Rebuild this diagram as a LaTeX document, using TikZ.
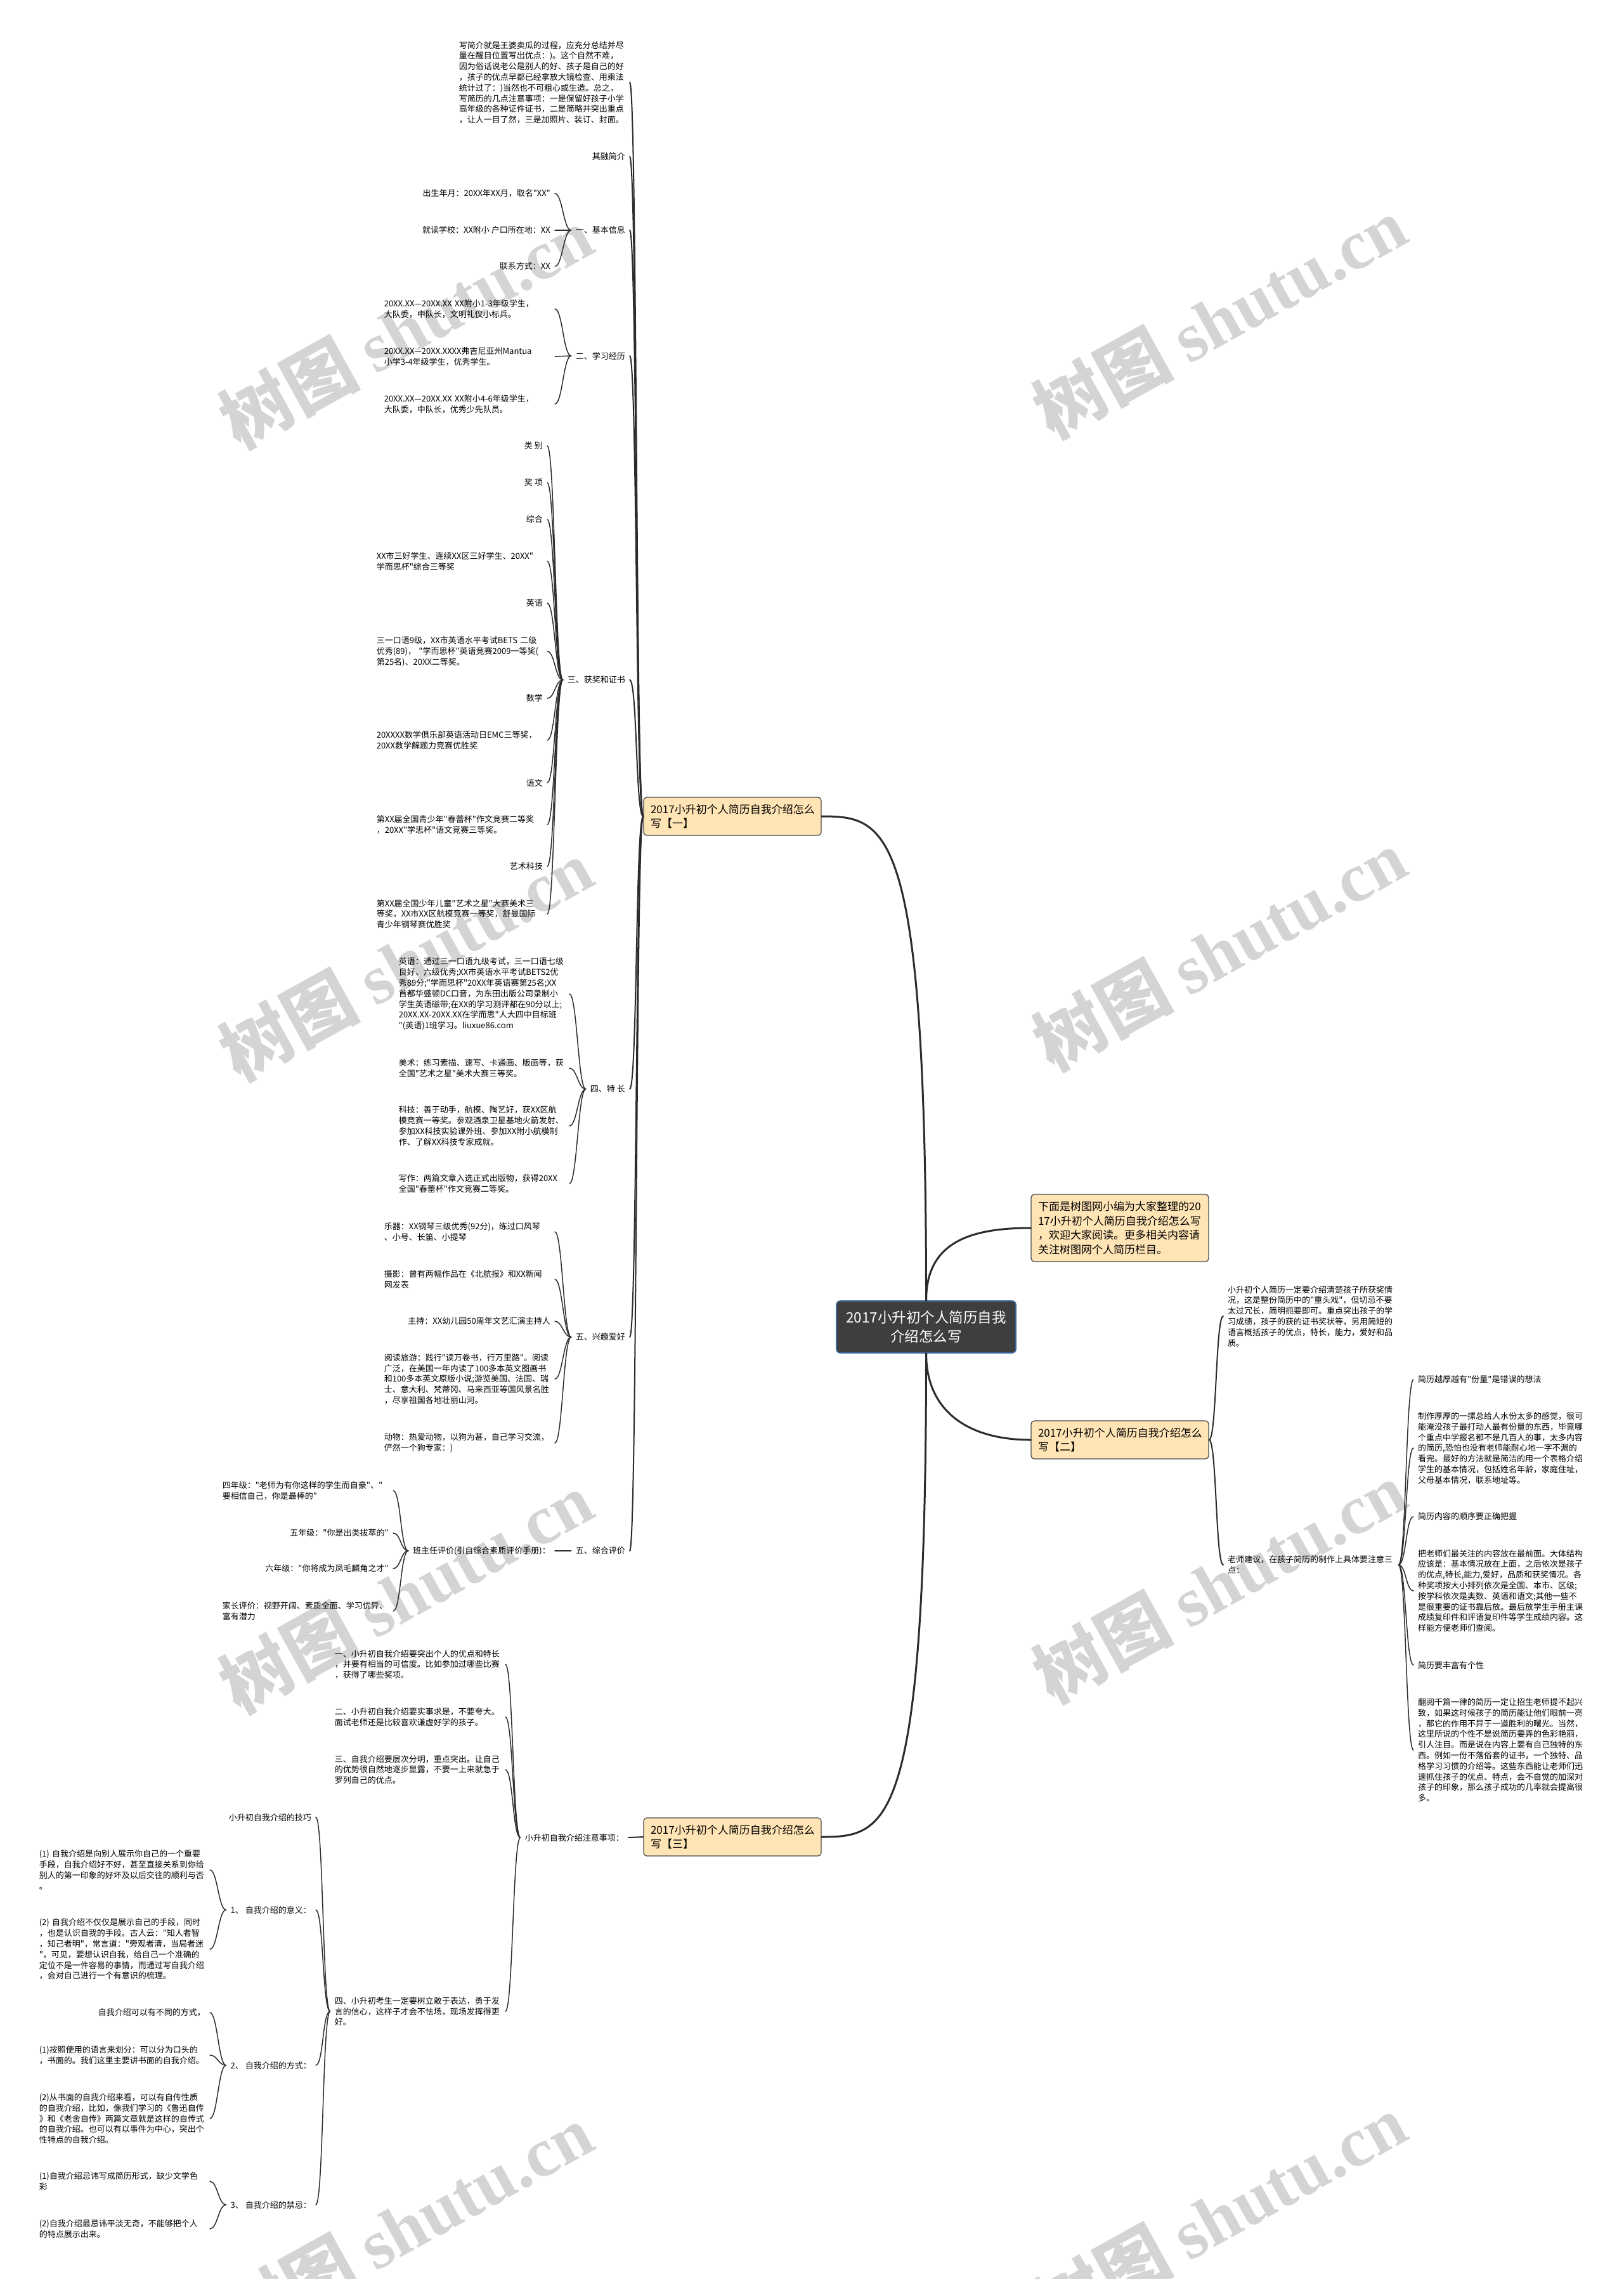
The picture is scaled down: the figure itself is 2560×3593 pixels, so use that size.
\documentclass[tikz,border=0pt]{standalone}
\usepackage{fontspec}
\newfontfamily\zhfont{Noto Sans CJK SC}
\newfontfamily\wmfont{Liberation Serif}
\hyphenpenalty=10000
\exhyphenpenalty=10000
\definecolor{boxfill}{HTML}{FFE4B5}
\definecolor{rootfill}{HTML}{3E3E3E}
\definecolor{rootline}{HTML}{3B6AA0}
\definecolor{wire}{HTML}{2B2B2B}
\tikzset{
  leaf/.style={font=\zhfont\fontsize{13}{16.8}\selectfont,inner xsep=7pt,inner ysep=2pt},
  para/.style={leaf,text width=262pt,align=left},
  branch/.style={draw=black!70,line width=1.3pt,fill=boxfill,rounded corners=5pt,font=\zhfont\fontsize{17}{22.5}\selectfont,text width=258pt,align=left,inner xsep=11pt,minimum height=60pt},
  root/.style={draw=rootline,line width=1.6pt,fill=rootfill,text=white,rounded corners=6pt,font=\zhfont\fontsize{22.5}{30}\selectfont,align=center,minimum width=283pt,minimum height=82pt},
  wm/.style={text=black!17,rotate=29,font=\zhfont\fontsize{110}{110}\selectfont\bfseries},
  trunk/.style={draw=wire,line width=3pt,line cap=round},
  lnk2/.style={draw=wire,line width=2pt,line cap=round},
  lnk/.style={draw=wire,line width=1.5pt,line cap=round},
}
\begin{document}
\begin{tikzpicture}[x=1pt,y=-1pt]
\path[use as bounding box,fill=white] (0,0) rectangle (2560,3593);
% watermark
\foreach \wx/\wy in {640/516,1923/500,640/1513,1923/1497,640/2510,1923/2494,640/3507,1923/3491}
  \node[wm] (wm-\wx-\wy) at (\wx,\wy) {树图 {\wmfont\bfseries shutu.cn}};

% centre and branches
\node[root] (cn) at (1460.5,2092) {2017小升初个人简历自我\\介绍怎么写};
\node[branch,minimum height=106pt] (ib) at (1766,1936) {下面是树图网小编为大家整理的20\\17小升初个人简历自我介绍怎么写\\，欢迎大家阅读。更多相关内容请\\关注树图网个人简历栏目。};
\node[branch] (b1) at (1155,1287) {2017小升初个人简历自我介绍怎么\\写【一】};
\node[branch] (b2) at (1766,2270) {2017小升初个人简历自我介绍怎么\\写【二】};
\node[branch] (b3) at (1155,2896) {2017小升初个人简历自我介绍怎么\\写【三】};

\begin{scope}[every node/.append style={anchor=east}]
% branch one
\node[para] (p0) at (993,130) {写简介就是王婆卖瓜的过程，应充分总结并尽\\量在醒目位置写出优点：)。这个自然不难，\\因为俗话说老公是别人的好、孩子是自己的好\\，孩子的优点早都已经拿放大镜检查、用乘法\\统计过了：)当然也不可粗心或生造。总之，\\写简历的几点注意事项：一是保留好孩子小学\\高年级的各种证件证书，二是简略并突出重点\\，让人一目了然，三是加照片、装订、封面。};
\node[leaf] (qr) at (993,247) {其融简介};
\node[leaf] (jb) at (993,363) {一、基本信息};
\node[leaf] (xx) at (993,561) {二、学习经历};
\node[leaf] (hj) at (993,1072) {三、获奖和证书};
\node[leaf] (tc) at (993,1717) {四、特 长};
\node[leaf] (xq) at (993,2108) {五、兴趣爱好};
\node[leaf] (zh) at (993,2445) {五、综合评价};

\node[leaf] (jb1) at (875,305) {出生年月：20XX年XX月，取名"XX"};
\node[leaf] (jb2) at (875,363) {就读学校：XX附小 户口所在地：XX};
\node[leaf] (jb3) at (875,420) {联系方式：XX};

\node[para] (xx1) at (875,487) {20XX.XX—20XX.XX~XX附小1-3年级学生，\\大队委，中队长，文明礼仪小标兵。};
\node[para] (xx2) at (875,562) {20XX.XX—20XX.XXXX弗吉尼亚州Mantua\\小学3-4年级学生，优秀学生。};
\node[para] (xx3) at (875,637) {20XX.XX—20XX.XX~XX附小4-6年级学生，\\大队委，中队长，优秀少先队员。};

\node[leaf] (hj1) at (863,703) {类 别};
\node[leaf] (hj2) at (863,761) {奖 项};
\node[leaf] (hj3) at (863,819) {综合};
\node[para] (hj4) at (863,885) {XX市三好学生、连续XX区三好学生、20XX"\\学而思杯"综合三等奖};
\node[leaf] (hj5) at (863,951) {英语};
\node[para] (hj6) at (863,1027) {三一口语9级，XX市英语水平考试BETS~二级\\优秀(89)，~"学而思杯"英语竞赛2009一等奖(\\第25名)、20XX二等奖。};
\node[leaf] (hj7) at (863,1101) {数学};
\node[para] (hj8) at (863,1167) {20XXXX数学俱乐部英语活动日EMC三等奖，\\20XX数学解题力竞赛优胜奖};
\node[leaf] (hj9) at (863,1234) {语文};
\node[para] (hj10) at (863,1300) {第XX届全国青少年"春蕾杯"作文竞赛二等奖\\，20XX"学思杯"语文竞赛三等奖。};
\node[leaf] (hj11) at (863,1366) {艺术科技};
\node[para] (hj12) at (863,1441) {第XX届全国少年儿童"艺术之星"大赛美术三\\等奖，XX市XX区航模竞赛一等奖，舒曼国际\\青少年钢琴赛优胜奖};

\node[para] (tc1) at (898,1567) {英语：通过三一口语九级考试，三一口语七级\\良好、六级优秀;XX市英语水平考试BETS2优\\秀89分;"学而思杯"20XX年英语赛第25名;XX\\首都华盛顿DC口音，为东田出版公司录制小\\学生英语磁带;在XX的学习测评都在90分以上;\\20XX.XX-20XX.XX在学而思"人大四中目标班\\"(英语)1班学习。liuxue86.com};
\node[para] (tc2) at (898,1684) {美术：练习素描、速写、卡通画、版画等，获\\全国"艺术之星"美术大赛三等奖。};
\node[para] (tc3) at (898,1775) {科技：善于动手，航模、陶艺好，获XX区航\\模竞赛一等奖。参观酒泉卫星基地火箭发射、\\参加XX科技实验课外班、参加XX附小航模制\\作、了解XX科技专家成就。};
\node[para] (tc4) at (898,1866) {写作：两篇文章入选正式出版物，获得20XX\\全国"春蕾杯"作文竞赛二等奖。};

\node[para] (xq1) at (875,1942) {乐器：XX钢琴三级优秀(92分)，练过口风琴\\、小号、长笛、小提琴};
\node[para] (xq2) at (875,2017) {摄影：曾有两幅作品在《北航报》和XX新闻\\网发表};
\node[leaf] (xq3) at (875,2083) {主持：XX幼儿园50周年文艺汇演主持人};
\node[para] (xq4) at (875,2174) {阅读旅游：践行"读万卷书，行万里路"。阅读\\广泛，在美国一年内读了100多本英文图画书\\和100多本英文原版小说;游览美国、法国、瑞\\士、意大利、梵蒂冈、马来西亚等国风景名胜\\，尽享祖国各地壮丽山河。};
\node[para] (xq5) at (875,2275) {动物：热爱动物，以狗为甚，自己学习交流，\\俨然一个狗专家：)};

\node[leaf] (bzr) at (875,2445) {班主任评价(引自综合素质评价手册)：};
\node[para] (pj1) at (620,2350) {四年级："老师为有你这样的学生而自豪"、"\\要相信自己，你是最棒的"};
\node[leaf] (pj2) at (620,2417) {五年级："你是出类拔萃的"};
\node[leaf] (pj3) at (620,2473) {六年级："你将成为凤毛麟角之才"};
\node[para] (pj4) at (620,2540) {家长评价：视野开阔、素质全面、学习优异、\\富有潜力};

% branch three
\node[leaf] (zs) at (991,2897) {小升初自我介绍注意事项：};
\node[para] (zs1) at (797,2624) {一、小升初自我介绍要突出个人的优点和特长\\，并要有相当的可信度。比如参加过哪些比赛\\，获得了哪些奖项。};
\node[para] (zs2) at (797,2707) {二、小升初自我介绍要实事求是，不要夸大。\\面试老师还是比较喜欢谦虚好学的孩子。};
\node[para] (zs3) at (797,2790) {三、自我介绍要层次分明，重点突出。让自己\\的优势很自然地逐步显露，不要一上来就急于\\罗列自己的优点。};
\node[para] (zs4) at (797,3171) {四、小升初考生一定要树立敢于表达，勇于发\\言的信心，这样子才会不怯场，现场发挥得更\\好。};

\node[leaf] (jq) at (498,2865) {小升初自我介绍的技巧};
\node[leaf] (yy) at (498,3011) {1、 自我介绍的意义：};
\node[leaf] (fs) at (498,3256) {2、 自我介绍的方式：};
\node[leaf] (jj) at (498,3476) {3、 自我介绍的禁忌：};

\node[para] (yy1) at (331,2948) {(1)~自我介绍是向别人展示你自己的一个重要\\手段，自我介绍好不好，甚至直接关系到你给\\别人的第一印象的好坏及以后交往的顺利与否\\。};
\node[para] (yy2) at (331,3073) {(2)~自我介绍不仅仅是展示自己的手段，同时\\，也是认识自我的手段。古人云："知人者智\\，知己者明"，常言道："旁观者清，当局者迷\\"，可见，要想认识自我，给自己一个准确的\\定位不是一件容易的事情，而通过写自我介绍\\，会对自己进行一个有意识的梳理。};
\node[leaf] (fs1) at (331,3173) {自我介绍可以有不同的方式，};
\node[para] (fs2) at (331,3240) {(1)按照使用的语言来划分：可以分为口头的\\，书面的。我们这里主要讲书面的自我介绍。};
\node[para] (fs3) at (331,3340) {(2)从书面的自我介绍来看，可以有自传性质\\的自我介绍，比如，像我们学习的《鲁迅自传\\》和《老舍自传》两篇文章就是这样的自传式\\的自我介绍。也可以有以事件为中心，突出个\\性特点的自我介绍。};
\node[para] (jj1) at (331,3439) {(1)自我介绍忌讳写成简历形式，缺少文学色\\彩};
\node[para] (jj2) at (331,3514) {(2)自我介绍最忌讳平淡无奇，不能够把个人\\的特点展示出来。};
\end{scope}

% branch two
\begin{scope}[every node/.append style={anchor=west}]
\node[para] (r1) at (1929,2075) {小升初个人简历一定要介绍清楚孩子所获奖情\\况，这是整份简历中的"重头戏"，但切忌不要\\太过冗长，简明扼要即可。重点突出孩子的学\\习成绩，孩子的获的证书奖状等，另用简短的\\语言概括孩子的优点，特长，能力，爱好和品\\质。};
\node[para] (r2) at (1929,2467) {老师建议，在孩子简历的制作上具体要注意三\\点：};
\node[leaf] (r21) at (2229,2175) {简历越厚越有"份量"是错误的想法};
\node[para] (r22) at (2229,2283) {制作厚厚的一摞总给人水份太多的感觉，很可\\能淹没孩子最打动人最有份量的东西，毕竟哪\\个重点中学报名都不是几百人的事，太多内容\\的简历,恐怕也没有老师能耐心地一字不漏的\\看完。最好的方法就是简洁的用一个表格介绍\\学生的基本情况，包括姓名年龄，家庭住址，\\父母基本情况，联系地址等。};
\node[leaf] (r23) at (2229,2391) {简历内容的顺序要正确把握};
\node[para] (r24) at (2229,2508) {把老师们最关注的内容放在最前面。大体结构\\应该是：基本情况放在上面，之后依次是孩子\\的优点,特长,能力,爱好，品质和获奖情况。各\\种奖项按大小排列依次是全国、本市、区级;\\按学科依次是奥数、英语和语文;其他一些不\\是很重要的证书靠后放。最后放学生手册主课\\成绩复印件和评语复印件等学生成绩内容。这\\样能方便老师们查阅。};
\node[leaf] (r25) at (2229,2625) {简历要丰富有个性};
\node[para] (r26) at (2229,2759) {翻阅千篇一律的简历一定让招生老师提不起兴\\致，如果这时候孩子的简历能让他们眼前一亮\\，那它的作用不异于一道胜利的曙光。当然，\\这里所说的个性不是说简历要弄的色彩艳丽，\\引人注目。而是说在内容上要有自己独特的东\\西。例如一份不落俗套的证书，一个独特、品\\格学习习惯的介绍等。这些东西能让老师们迅\\速抓住孩子的优点、特点，会不自觉的加深对\\孩子的印象，那么孩子成功的几率就会提高很\\多。};
\end{scope}

% connectors
\draw[trunk] (cn.north) .. controls +(0,-91) and +(-97,0) .. (ib.west);
\draw[trunk] (b1.east) .. controls +(105,0) and +(0,-750) .. (cn.north);
\draw[trunk] (cn.south) .. controls +(0,90) and +(-100,0) .. (b2.west);
\draw[trunk] (cn.south) .. controls +(0,750) and +(105,0) .. (b3.east);

\foreach \c in {p0,qr,jb,xx,hj,tc,xq,zh} \draw[lnk2] (b1.west) .. controls +(-12,0) and +(12,0) .. (\c.east);
\foreach \c in {jb1,jb2,jb3} \draw[lnk] (jb.west) .. controls +(-12,0) and +(12,0) .. (\c.east);
\foreach \c in {xx1,xx2,xx3} \draw[lnk] (xx.west) .. controls +(-12,0) and +(12,0) .. (\c.east);
\foreach \c in {hj1,hj2,hj3,hj4,hj5,hj6,hj7,hj8,hj9,hj10,hj11,hj12} \draw[lnk] (hj.west) .. controls +(-12,0) and +(12,0) .. (\c.east);
\foreach \c in {tc1,tc2,tc3,tc4} \draw[lnk] (tc.west) .. controls +(-12,0) and +(12,0) .. (\c.east);
\foreach \c in {xq1,xq2,xq3,xq4,xq5} \draw[lnk] (xq.west) .. controls +(-12,0) and +(12,0) .. (\c.east);
\draw[lnk] (zh.west) -- (bzr.east);
\foreach \c in {pj1,pj2,pj3,pj4} \draw[lnk] (bzr.west) .. controls +(-12,0) and +(12,0) .. (\c.east);

\foreach \c in {r1,r2} \draw[lnk2] (b2.east) .. controls +(12,0) and +(-12,0) .. (\c.west);
\foreach \c in {r21,r22,r23,r24,r25,r26} \draw[lnk] (r2.east) .. controls +(12,0) and +(-12,0) .. (\c.west);

\draw[lnk2] (b3.west) -- (zs.east);
\foreach \c in {zs1,zs2,zs3,zs4} \draw[lnk] (zs.west) .. controls +(-12,0) and +(12,0) .. (\c.east);
\foreach \c in {jq,yy,fs,jj} \draw[lnk] (zs4.west) .. controls +(-12,0) and +(12,0) .. (\c.east);
\foreach \c in {yy1,yy2} \draw[lnk] (yy.west) .. controls +(-12,0) and +(12,0) .. (\c.east);
\foreach \c in {fs1,fs2,fs3} \draw[lnk] (fs.west) .. controls +(-12,0) and +(12,0) .. (\c.east);
\foreach \c in {jj1,jj2} \draw[lnk] (jj.west) .. controls +(-12,0) and +(12,0) .. (\c.east);
\end{tikzpicture}
\end{document}
